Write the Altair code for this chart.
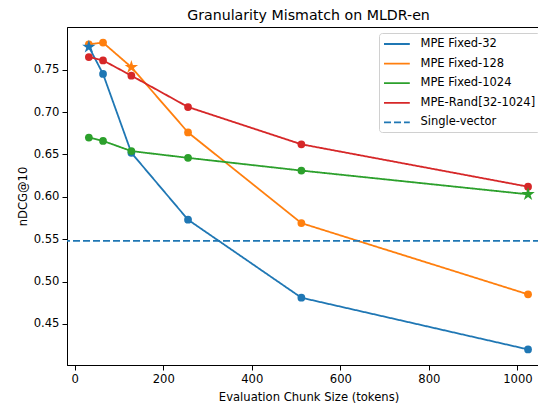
import altair as alt
import pandas as pd

chunk_sizes = [32, 64, 128, 256, 512, 1024]
fixed_32 = [0.777, 0.745, 0.652, 0.573, 0.481, 0.420]
fixed_128 = [0.780, 0.782, 0.753, 0.676, 0.569, 0.485]
fixed_1024 = [0.670, 0.666, 0.654, 0.646, 0.631, 0.603]
rand_mix = [0.765, 0.761, 0.743, 0.706, 0.662, 0.612]
single_vector = 0.548

series_names = ["MPE Fixed-32", "MPE Fixed-128", "MPE Fixed-1024", "MPE-Rand[32-1024]", "Single-vector"]
series_values = [fixed_32, fixed_128, fixed_1024, rand_mix]
train_sizes = [32, 128, 1024, None]
colors = ["#1f77b4", "#ff7f0e", "#2ca02c", "#d62728", "#1f77b4"]
dashes = [[1, 0], [1, 0], [1, 0], [1, 0], [7, 3]]

STAR = ("M0,-1L0.2245,-0.309L0.951,-0.309L0.363,0.118L0.588,0.809L0,0.382"
        "L-0.588,0.809L-0.363,0.118L-0.951,-0.309L-0.2245,-0.309Z")
LEGEND_LINE = "M-1,0L3.3,0"

rows = []
for name, vals, ts in zip(series_names[:4], series_values, train_sizes):
    for x, y in zip(chunk_sizes, vals):
        rows.append({"series": name, "x": x, "y": y, "star": x == ts})
df = pd.DataFrame(rows)
df_circ = df[~df["star"]]
df_star = df[df["star"]]
df_single = pd.DataFrame({"series": ["Single-vector"], "y": [single_vector]})

font = "DejaVu Sans"
color_scale = alt.Scale(domain=series_names, range=colors)
dash_scale = alt.Scale(domain=series_names, range=dashes)
legend = alt.Legend(title=None, orient="none", legendX=312, legendY=6,
                    symbolType=LEGEND_LINE, symbolSize=144, symbolStrokeWidth=1.8,
                    symbolFillColor="transparent",
                    labelFont=font, labelFontSize=11.5, labelColor="black",
                    fillColor="white", strokeColor="#d0d0d0", cornerRadius=3,
                    padding=4, rowPadding=6.6, labelOffset=23.5)

xs = alt.X("x:Q", scale=alt.Scale(domain=[-17.4, 1073.6], nice=False, zero=False),
           axis=alt.Axis(values=[0, 200, 400, 600, 800, 1000], format="d", title="Evaluation Chunk Size (tokens)"))
ys = alt.Y("y:Q", scale=alt.Scale(domain=[0.4016, 0.8004], nice=False, zero=False),
           axis=alt.Axis(values=[0.45, 0.5, 0.55, 0.6, 0.65, 0.7, 0.75], format=".2f", title="nDCG@10"))

lines = alt.Chart(df).mark_line(strokeWidth=1.8).encode(
    x=xs, y=ys,
    color=alt.Color("series:N", scale=color_scale, legend=legend),
    strokeDash=alt.StrokeDash("series:N", scale=dash_scale, legend=legend),
)
circles = alt.Chart(df_circ).mark_circle(size=60, opacity=1).encode(
    x=xs, y=ys,
    color=alt.Color("series:N", scale=color_scale, legend=legend),
)
stars = alt.Chart(df_star).mark_point(shape=STAR, filled=True, size=200, opacity=1).encode(
    x=xs, y=ys,
    color=alt.Color("series:N", scale=color_scale, legend=legend),
)
rule = alt.Chart(df_single).mark_rule(strokeWidth=1.8).encode(
    y=alt.Y("y:Q"),
    color=alt.Color("series:N", scale=color_scale, legend=legend),
    strokeDash=alt.StrokeDash("series:N", scale=dash_scale, legend=legend),
)

chart = alt.layer(lines, circles, stars, rule).properties(
    width=483, height=338,
    autosize=alt.AutoSizeParams(type="none"),
    padding={"left": 59, "top": 19, "right": -12, "bottom": 40},
    title=alt.TitleParams("Granularity Mismatch on MLDR-en", font=font, fontSize=14.2,
                          fontWeight="normal", color="black", offset=4),
).configure_view(stroke="black", strokeWidth=1).configure_axis(
    grid=False, labelFont=font, titleFont=font, labelFontSize=11.6, titleFontSize=11.6,
    labelColor="black", titleColor="black", titleFontWeight="normal",
    tickColor="black", domainColor="black", tickSize=5, labelPadding=3,
).configure_axisY(titlePadding=5).configure_axisX(titlePadding=7)

chart.save("out.html", embed_options={"renderer": "svg", "actions": False})
